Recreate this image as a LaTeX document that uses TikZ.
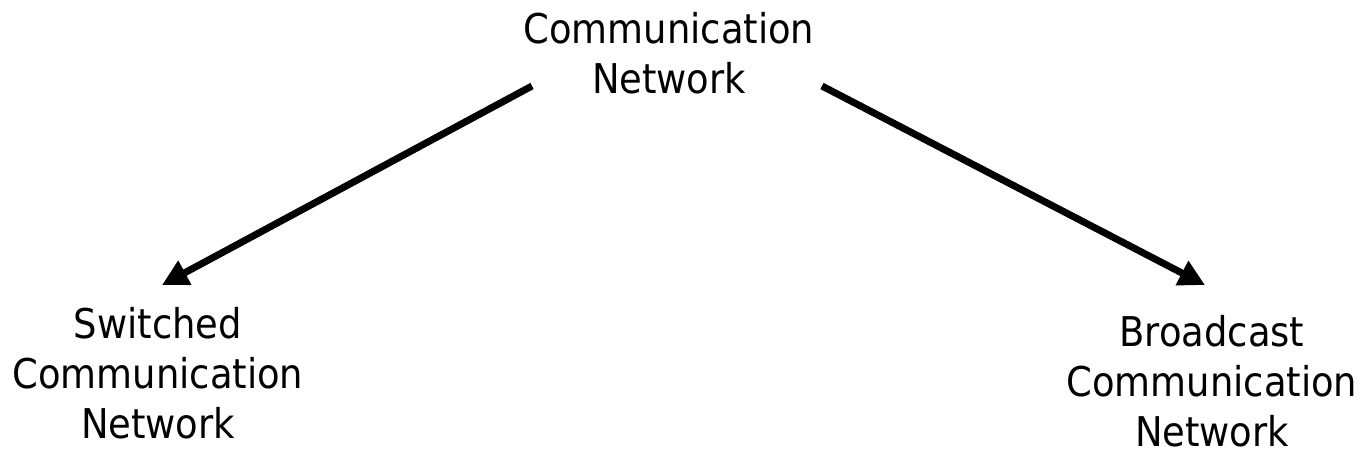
\documentclass[tikz,border=0pt]{standalone}
\usepackage{fontspec}
\setmainfont{DejaVu Sans Condensed}
\usepackage{tikz}
\usetikzlibrary{arrows.meta}

\tikzset{
    netlabel/.style={anchor=base, inner sep=0pt, align=center, text depth=0pt, font=\fontsize{41}{50}\selectfont},
    netarrow/.style={line width=7pt, -{Triangle[length=26pt,width=26pt]}}
}

\begin{document}
\begin{tikzpicture}[x=1pt,y=1pt,yscale=-1,xscale=1]
    \useasboundingbox (0,0) rectangle (1365,456);

    % base anchor sits on the last line
    \node [netlabel] (comm) at (669,93) {Communication\\Network};
    \node [netlabel] (switched) at (158,438) {Switched\\Communication\\Network};
    \node [netlabel] (broadcast) at (1212,446) {Broadcast\\Communication\\Network};

    \coordinate (commL) at (532,86);
    \coordinate (commR) at (822,86);
    \coordinate (switchedtop) at (162,285);
    \coordinate (broadcasttop) at (1205,285);

    \draw [netarrow] (commL) -- (switchedtop);
    \draw [netarrow] (commR) -- (broadcasttop);
\end{tikzpicture}
\end{document}
